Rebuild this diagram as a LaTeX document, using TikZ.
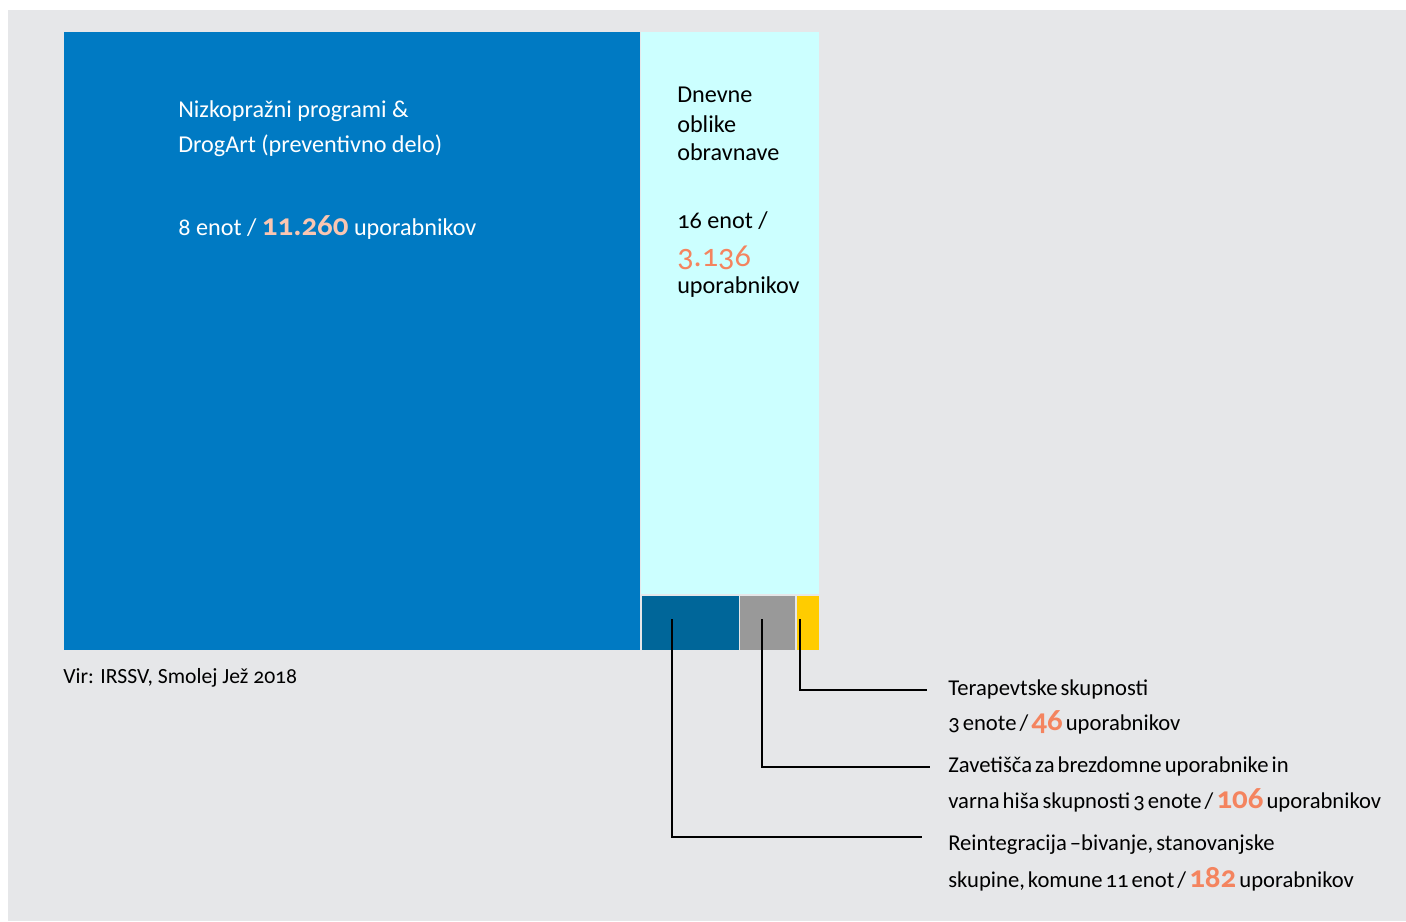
\documentclass[tikz,border=0pt]{standalone}
\usepackage{fontspec}
\setmainfont{Carlito}[Numbers=OldStyle]
\newfontfamily\labfont{Carlito}[Numbers=OldStyle,WordSpace=0.6]
\usetikzlibrary{positioning}
\definecolor{bggray}{HTML}{E6E7E9}
\definecolor{nizblue}{HTML}{007AC3}
\definecolor{dncyan}{HTML}{CCFFFF}
\definecolor{reblue}{HTML}{006699}
\definecolor{zavgray}{HTML}{999999}
\definecolor{teryellow}{HTML}{FFCC00}
\definecolor{salmon}{HTML}{F4845F}
\definecolor{palesalmon}{HTML}{F9C6B2}
\newcommand\bignum[2][salmon]{{\fontsize{22}{24}\selectfont\bfseries\color{#1}#2}}

\begin{document}
\begin{tikzpicture}[x=0.025cm,y=-0.025cm,
    txt/.style={anchor=base west,inner sep=0pt,font=\fontsize{15.4}{18}\selectfont},
    bigtxt/.style={txt,font=\fontsize{17.2}{20}\selectfont},
    labtxt/.style={txt,font=\labfont\fontsize{16.1}{18}\selectfont},
    leader/.style={black,line width=0.9pt}]
    \useasboundingbox (0,0) rectangle (1406,921);
    \fill[bggray] (8,10) rectangle (1406,921);

    % ploskve
    \fill[nizblue] (64,32) rectangle (640,650);
    \fill[dncyan] (641,32) rectangle (819,594);
    \fill[reblue] (642,596) rectangle (739,650);
    \fill[zavgray] (740,596) rectangle (795,650);
    \fill[teryellow] (797,596) rectangle (819,650);

    % nizkopražni programi
    \node[bigtxt,white] (niz1) at (178,117) {Nizkopražni programi \&};
    \node[bigtxt,white] (niz2) at (178,152) {DrogArt (preventivno delo)};
    \node[bigtxt,white] (niz3) at (178,235) {8 enot / \bignum[palesalmon]{11.260} uporabnikov};

    % dnevne oblike
    \node[bigtxt] (dn1) at (677,102) {Dnevne};
    \node[bigtxt] (dn2) at (677,132) {oblike};
    \node[bigtxt] (dn3) at (677,160) {obravnave};
    \node[bigtxt] (dn4) at (677,228) {16 enot /};
    \node[txt,text=salmon,font=\fontsize{23}{24}\selectfont] (dn5) at (677,266) {3.136};
    \node[bigtxt] (dn6) at (677,293) {uporabnikov};

    \node[txt] (vir) at (63,683) {Vir: IRSSV, Smolej Jež 2018};

    % oznake malih ploskev
    \node[labtxt] (ter1) at (948,695) {Terapevtske skupnosti};
    \node[labtxt] (ter2) at (948,730) {3 enote / \bignum{46} uporabnikov};
    \node[labtxt] (zav1) at (948,772) {Zavetišča za brezdomne uporabnike in};
    \node[labtxt] (zav2) at (948,808) {varna hiša skupnosti 3 enote / \bignum{106} uporabnikov};
    \node[labtxt] (rei1) at (948,850) {Reintegracija –bivanje, stanovanjske};
    \node[labtxt] (rei2) at (948,887) {skupine, komune 11 enot / \bignum{182} uporabnikov};

    \coordinate (re) at (672,619);
    \coordinate (zav) at (762,619);
    \coordinate (ter) at (800,619);
    \coordinate (reEnd) at (922,837);
    \coordinate (zavEnd) at (930,767);
    \coordinate (terEnd) at (927,690);
    \foreach \P in {re,zav,ter}\draw[leader] (\P) |- (\P End);
\end{tikzpicture}
\end{document}
